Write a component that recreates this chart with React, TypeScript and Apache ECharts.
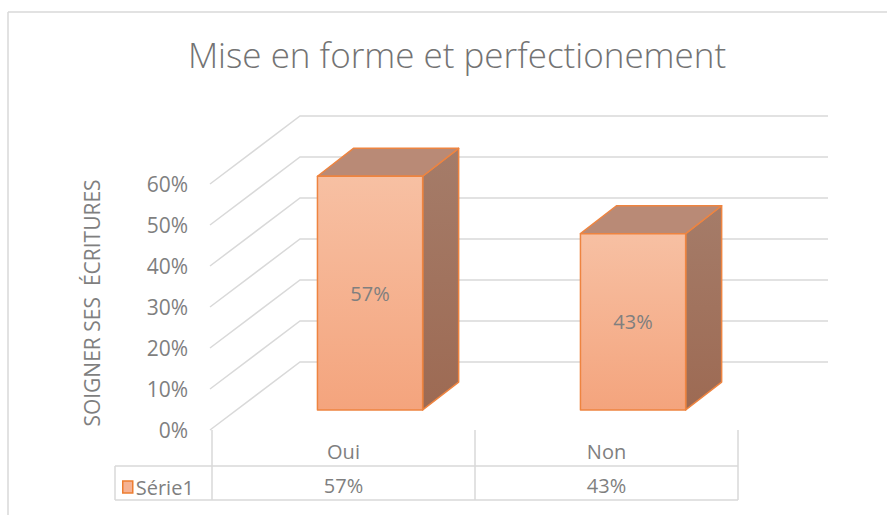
import React, { useEffect, useRef } from "react";
import * as echarts from "echarts";

const titleText = "Mise en forme et perfectionement";
const yAxisTitle = "SOIGNER SES  ÉCRITURES";
const categories = ["Oui", "Non"];
const seriesName = "Série1";
const values = [0.57, 0.43];
const yTicks = [0, 0.1, 0.2, 0.3, 0.4, 0.5, 0.6];

const FONT = "'Open Sans', 'Noto Sans', sans-serif";
const GRAY = "#7f7f7f";
const LINE = "#d9d9d9";
const DEPTH = [90, -68];

const pct = (v: number) => Math.round(v * 100) + "%";

export default function App() {
  const ref = useRef<HTMLDivElement>(null);

  useEffect(() => {
    if (!ref.current) return;
    const chart = echarts.init(ref.current, null, { renderer: "svg" });

    const wallItem = (params: any, api: any) => {
      const cs = params.coordSys;
      const t = api.value(1);
      const y = api.coord([0, t])[1];
      const xL = cs.x - 2;
      const xR = cs.x + cs.width;
      return {
        type: "polyline",
        shape: {
          points: [
            [xL, y],
            [xL + DEPTH[0], y + DEPTH[1]],
            [xR + DEPTH[0], y + DEPTH[1]],
          ],
        },
        style: { stroke: LINE, lineWidth: 1.5, fill: "none" },
        silent: true,
      };
    };

    const barItem = (params: any, api: any) => {
      const idx = api.value(0);
      const v = api.value(1);
      const base = api.coord([idx, 0]);
      const top = api.coord([idx, v]);
      const catW = api.size([1, 0])[0];
      const w = catW * 0.4;
      const fx = DEPTH[0] * 0.295;
      const fy = DEPTH[1] * 0.295;
      const dx = DEPTH[0] * 0.4;
      const dy = DEPTH[1] * 0.41;
      const x0 = base[0] + fx - w / 2;
      const x1 = x0 + w;
      const yb = base[1] + fy;
      const yt = top[1] + fy;
      const border = { stroke: "#ee8440", lineWidth: 1.5, lineJoin: "round" };
      return {
        type: "group",
        children: [
          {
            type: "polygon",
            shape: {
              points: [
                [x1, yt],
                [x1 + dx, yt + dy],
                [x1 + dx, yb + dy],
                [x1, yb],
              ],
            },
            style: {
              fill: new echarts.graphic.LinearGradient(0, 0, 0, 1, [
                { offset: 0, color: "#a57c69" },
                { offset: 1, color: "#9d6a53" },
              ]),
              ...border,
            },
          },
          {
            type: "polygon",
            shape: {
              points: [
                [x0, yt],
                [x0 + dx, yt + dy],
                [x1 + dx, yt + dy],
                [x1, yt],
              ],
            },
            style: { fill: "#b98a76", ...border },
          },
          {
            type: "rect",
            shape: { x: x0, y: yt, width: w, height: yb - yt },
            style: {
              fill: new echarts.graphic.LinearGradient(0, 0, 0, 1, [
                { offset: 0, color: "#f7c0a3" },
                { offset: 1, color: "#f4a47d" },
              ]),
              ...border,
            },
          },
          {
            type: "text",
            style: {
              text: pct(v),
              x: (x0 + x1) / 2,
              y: (yt + yb) / 2,
              align: "center",
              verticalAlign: "middle",
              fill: GRAY,
              fontSize: 20,
              fontFamily: FONT,
            },
          },
        ],
      };
    };

    chart.setOption({
      animation: false,
      title: {
        text: titleText,
        left: 452,
        top: 32,
        textAlign: "center",
        textStyle: {
          fontSize: 35,
          fontWeight: 300,
          fontFamily: FONT,
          color: "#737373",
        },
      },
      legend: {
        data: [
          {
            name: seriesName,
            icon: "rect",
            itemStyle: { color: "#f5b293", borderColor: "#ed7d31", borderWidth: 1.5 },
          },
        ],
        left: 117,
        top: 472,
        itemWidth: 10,
        itemHeight: 12,
        textStyle: { fontSize: 20, fontFamily: FONT, color: GRAY, padding: [0, 0, 0, -2] },
      },
      grid: { left: 212, right: 149, top: 184, bottom: 85 },
      xAxis: [
        {
          type: "category",
          data: categories,
          axisLine: { show: false },
          axisTick: { show: true, length: 70, lineStyle: { color: LINE, width: 1.5 } },
          axisLabel: { margin: 11, fontSize: 20, fontFamily: FONT, color: GRAY },
        },
        {
          type: "category",
          data: values.map(pct),
          position: "bottom",
          offset: 36,
          axisLine: { show: false },
          axisTick: { show: false },
          axisLabel: { margin: 9, fontSize: 20, fontFamily: FONT, color: GRAY },
        },
      ],
      yAxis: {
        type: "value",
        min: 0,
        max: 0.6,
        interval: 0.1,
        name: yAxisTitle,
        nameLocation: "middle",
        nameRotate: 90,
        nameGap: 110,
        nameTextStyle: { fontSize: 21, fontFamily: FONT, color: GRAY, padding: [0, 0, 0, 8] },
        axisLine: { show: false },
        axisTick: { show: false },
        splitLine: { show: false },
        axisLabel: {
          margin: 24,
          fontSize: 21,
          fontFamily: FONT,
          color: GRAY,
          formatter: (v: number) => pct(v),
        },
      },
      series: [
        {
          type: "custom",
          name: "walls",
          data: yTicks.map((t) => [0, t]),
          renderItem: wallItem,
          silent: true,
          z: 1,
        },
        {
          type: "custom",
          name: seriesName,
          data: values.map((v, i) => [i, v]),
          renderItem: barItem,
          itemStyle: { color: "#f5b293" },
          z: 2,
        },
      ],
      graphic: [
        {
          type: "line",
          shape: { x1: 8, y1: 12, x2: 887, y2: 12 },
          style: { stroke: LINE, lineWidth: 1.5 },
          silent: true,
        },
        {
          type: "line",
          shape: { x1: 8, y1: 12, x2: 8, y2: 515 },
          style: { stroke: LINE, lineWidth: 1.5 },
          silent: true,
        },
        {
          type: "line",
          shape: { x1: 115, y1: 466, x2: 738, y2: 466 },
          style: { stroke: LINE, lineWidth: 1.5 },
          silent: true,
        },
        {
          type: "line",
          shape: { x1: 115, y1: 500, x2: 738, y2: 500 },
          style: { stroke: LINE, lineWidth: 1.5 },
          silent: true,
        },
        {
          type: "line",
          shape: { x1: 115, y1: 466, x2: 115, y2: 500 },
          style: { stroke: LINE, lineWidth: 1.5 },
          silent: true,
        },
      ],
    });

    return () => chart.dispose();
  }, []);

  return (
    <div
      ref={ref}
      style={{ position: "fixed", left: 0, top: 0, width: 887, height: 515, background: "#ffffff" }}
    />
  );
}
